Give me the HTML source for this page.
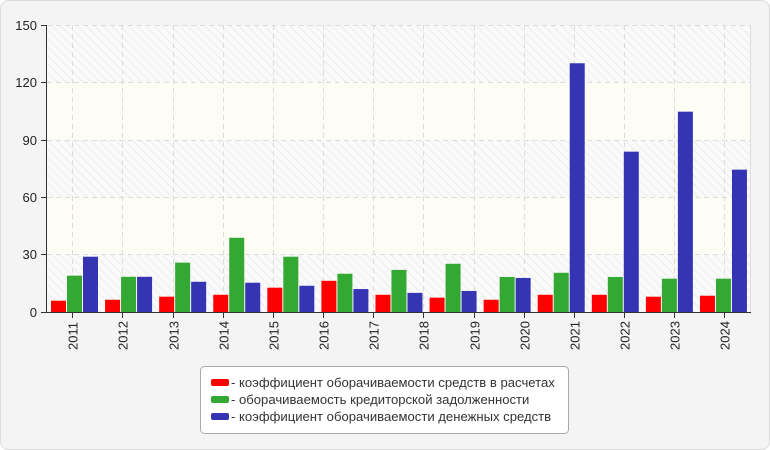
<!DOCTYPE html>
<html><head><meta charset="utf-8"><style>
body{margin:0;background:#fff;}
svg{display:block;font-family:"Liberation Sans",sans-serif;}
</style></head><body>
<svg width="770" height="450" xmlns="http://www.w3.org/2000/svg">
<defs>
<pattern id="h" width="6" height="6" patternUnits="userSpaceOnUse" patternTransform="rotate(-45)">
<rect width="6" height="6" fill="#fafafa"/><line x1="0" y1="0" x2="0" y2="6" stroke="#ececec" stroke-width="2"/>
</pattern>
</defs>
<rect x="0.5" y="0.5" width="769" height="449" rx="8" fill="#f4f4f4" stroke="#dcdcdc"/>
<rect x="47" y="25" width="703" height="287" fill="url(#h)"/>
<rect x="47" y="82.4" width="703" height="57.4" fill="#fdfdf6"/>
<rect x="47" y="197.2" width="703" height="57.4" fill="#fdfdf6"/>
<g stroke="#dcdcdc" stroke-dasharray="5,4" stroke-width="1">
<line x1="47" y1="25.5" x2="750" y2="25.5"/>
<line x1="47" y1="82.5" x2="750" y2="82.5"/>
<line x1="47" y1="140.5" x2="750" y2="140.5"/>
<line x1="47" y1="197.5" x2="750" y2="197.5"/>
<line x1="47" y1="254.5" x2="750" y2="254.5"/>
<g id="vg"></g>
</g>
<g id="bars"></g>
<line x1="750.5" y1="25" x2="750.5" y2="312" stroke="#ddd"/>
<line x1="46.5" y1="25" x2="46.5" y2="312.5" stroke="#333"/>
<line x1="46" y1="312.5" x2="751" y2="312.5" stroke="#333"/>
<g stroke="#333">
<line x1="41" y1="25.5" x2="47" y2="25.5"/><line x1="41" y1="82.5" x2="47" y2="82.5"/>
<line x1="41" y1="140.5" x2="47" y2="140.5"/><line x1="41" y1="197.5" x2="47" y2="197.5"/>
<line x1="41" y1="254.5" x2="47" y2="254.5"/><line x1="41" y1="312.5" x2="47" y2="312.5"/>
<g id="xt"></g>
</g>
<g font-size="13" fill="#222" text-anchor="end">
<text x="37" y="30">150</text><text x="37" y="87">120</text><text x="37" y="145">90</text>
<text x="37" y="202">60</text><text x="37" y="259">30</text><text x="37" y="317">0</text>
</g>
<g id="xl" font-size="13" fill="#222"></g>
<rect x="200.5" y="366.5" width="368" height="67" rx="4" fill="#fff" stroke="#aaa"/>
<rect x="211" y="379" width="18" height="7" rx="2" fill="#f00"/>
<rect x="211" y="396" width="18" height="7" rx="2" fill="#33a833"/>
<rect x="211" y="413" width="18" height="7" rx="2" fill="#3535b4"/>
<g font-size="13.1" fill="#333">
<text x="231" y="387">- коэффициент оборачиваемости средств в расчетах</text>
<text x="231" y="404">- оборачиваемость кредиторской задолженности</text>
<text x="231" y="421">- коэффициент оборачиваемости денежных средств</text>
</g>
<script>
var ns="http://www.w3.org/2000/svg";
function el(p,t,a,txt){var e=document.createElementNS(ns,t);for(var k in a)e.setAttribute(k,a[k]);if(txt)e.textContent=txt;document.getElementById(p).appendChild(e);}
var d=[[5.9,19,28.9],[6.4,18.4,18.4],[8,25.8,15.8],[9,38.8,15.3],[12.7,28.9,13.7],[16.3,20,12],[9,22,10],[7.5,25.2,11],[6.4,18.3,17.8],[9,20.5,130],[9,18.3,83.8],[8,17.4,104.7],[8.5,17.4,74.4]];
var c=["#ff0000","#33a833","#3535b4"],k=287/150;
for(var i=0;i<13;i++){var x0=51+i*54.08;for(var j=0;j<3;j++){var h=d[i][j]*k;el("bars","rect",{x:x0+j*16,y:312-h,width:15,height:h,fill:c[j]});}}
for(var i=0;i<14;i++){var x=Math.round(72.3+i*50.15)+0.5;
el("vg","line",{x1:x,y1:25,x2:x,y2:312});
el("xt","line",{x1:x,y1:312,x2:x,y2:318});
el("xl","text",{x:0,y:0,transform:"translate("+(x+5)+",350) rotate(-90)"},String(2011+i));}
</script>
</svg>
</body></html>
